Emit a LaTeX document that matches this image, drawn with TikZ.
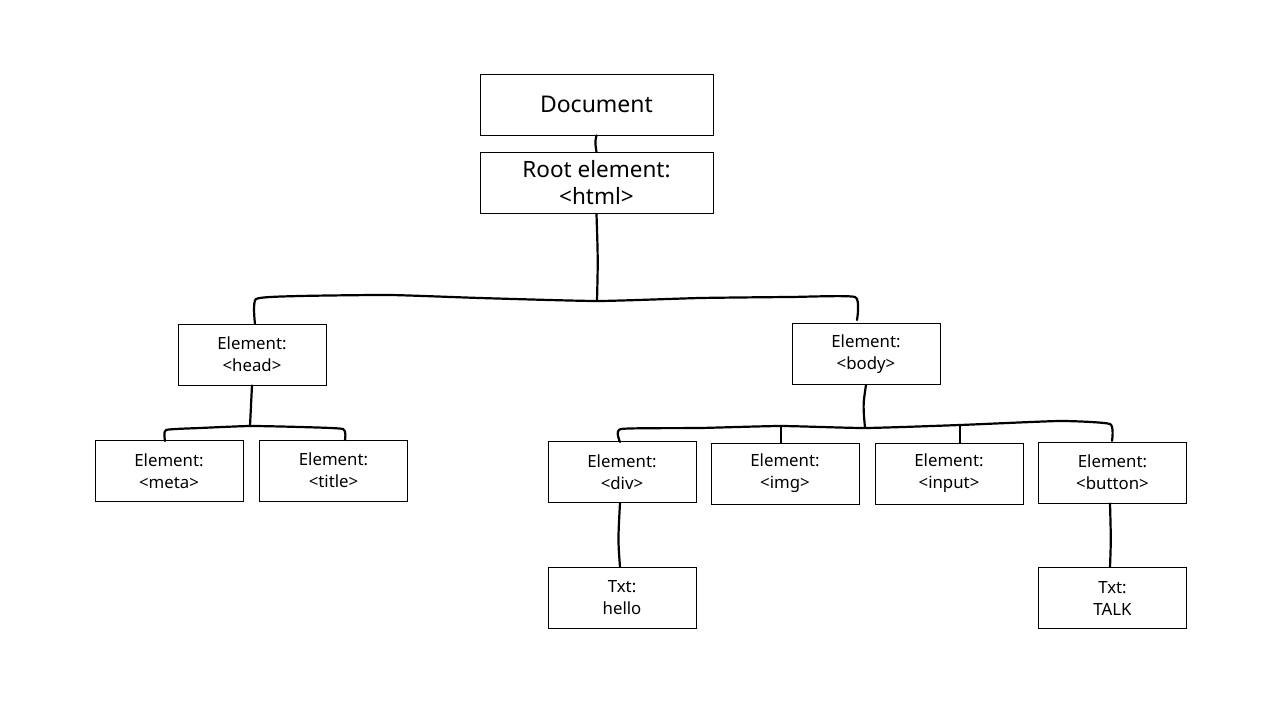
\documentclass[tikz,border=0pt]{standalone}
\usepackage{fontspec}
\setmainfont{Noto Sans}
\usepackage{tikz}

\begin{document}
\begin{tikzpicture}[x=1pt, y=-1pt, thick, inner sep=0pt,
  box/.style={draw, line width=0.8pt, minimum width=148pt, minimum height=61pt, align=center, font=\fontsize{16.8}{22}\selectfont},
  bigbox/.style={box, minimum width=233pt, minimum height=61pt, font=\fontsize{22.5}{27}\selectfont},
  wire/.style={line width=2.2pt, line cap=round, line join=round}]

\useasboundingbox (0,0) rectangle (1280,720);

  % top of the tree
  \node[bigbox] (doc)  at (596.5,104.5) {\fontsize{23}{26}\selectfont Document};
  \node[bigbox] (root) at (596.5,183)   {Root element:\\\textless html\textgreater};

  % second level
  \node[box] (head) at (252,354.5) {Element:\\\textless head\textgreater};
  \node[box] (body) at (866,354)   {Element:\\\textless body\textgreater};

  % children of head and body
  \node[box] (meta)   at (169,471)    {Element:\\\textless meta\textgreater};
  \node[box] (title)  at (333.5,470.5){Element:\\\textless title\textgreater};
  \node[box] (div)    at (622,472)    {Element:\\\textless div\textgreater};
  \node[box] (img)    at (785,473.5)  {Element:\\\textless img\textgreater};
  \node[box] (input)  at (949,473.5)  {Element:\\\textless input\textgreater};
  \node[box] (button) at (1112.5,472.5) {Element:\\\textless button\textgreater};

  % text leaves
  \node[box] (hello) at (622,598)    {Txt:\\hello};
  \node[box] (talk)  at (1112.5,598) {Txt:\\TALK};

  % junctions on the buses
  \coordinate (rootj) at (597,301);
  \coordinate (headj) at (250,426);
  \coordinate (bodyj) at (865,428);

  \draw[wire] (doc.south) .. controls (595,142) .. (root.north);
  \draw[wire] (root.south) .. controls (598,260) .. (rootj);
  \draw[wire] plot[smooth, tension=0.3] coordinates {(255,324) (256,299) (300,296) (390,295) (480,298) (rootj) (700,298) (790,297) (855,297) (857,320)};

  \draw[wire] (head.south) -- (headj);
  \draw[wire] plot[smooth, tension=0.3] coordinates {(165,441) (166,430) (200,428) (headj) (300,427) (343,429) (345,440)};

  \draw[wire] (body.south) .. controls (863,405) .. (bodyj);
  \draw[wire] plot[smooth, tension=0.3] coordinates {(620,442) (621,429) (700,428) (781,426) (bodyj) (960,425) (1060,421) (1110,424) (1112,441)};
  \draw[wire] (781,426) -- (img.north -| 781,0);
  \draw[wire] (960,425) -- (input.north -| 960,0);

  \draw[wire] (div.south -| 620,0) .. controls (618,540) .. (hello.north -| 620,0);
  \draw[wire] (button.south -| 1110,0) .. controls (1111,540) .. (talk.north -| 1110,0);

\end{tikzpicture}
\end{document}
